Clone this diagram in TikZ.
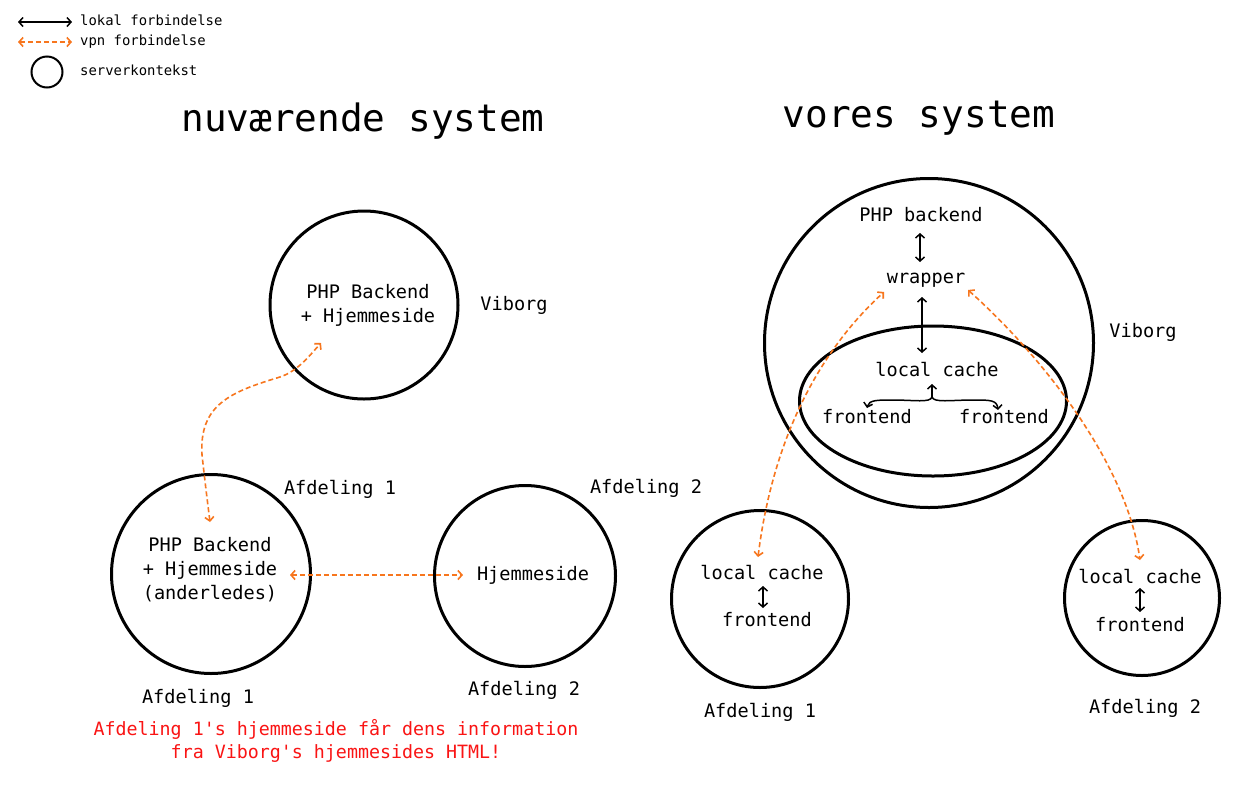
\documentclass[tikz,border=0pt]{standalone}
\usepackage{fontspec}
\setmonofont{DejaVu Sans Mono}
\usetikzlibrary{arrows.meta,shapes.geometric}
\definecolor{vpn}{RGB}{247,118,30}
\definecolor{warn}{RGB}{250,20,20}
\begin{document}
\begin{tikzpicture}[x=1pt,y=-1pt,
  txt/.style={font=\ttfamily\fontsize{18.6}{23}\selectfont, inner sep=0pt, text height=14pt, text depth=2pt},
  small/.style={font=\ttfamily\fontsize{13.9}{16}\selectfont, inner sep=0pt, anchor=west, text height=10pt, text depth=3pt},
  ttl/.style={font=\ttfamily\fontsize{37.7}{44}\selectfont, inner sep=0pt, text height=27pt, text depth=7pt},
  ctx/.style={circle, draw, line width=3pt, inner sep=0pt},
  lok/.style={{Straight Barb[length=4pt,width=9pt]}-{Straight Barb[length=4pt,width=9pt]}, line width=1.5pt},
  lok1/.style={-{Straight Barb[length=4pt,width=9pt]}, line width=1.5pt},
  vpnl/.style={draw=vpn, dash pattern=on 5pt off 3pt, line width=1.6pt, {Straight Barb[length=4pt,width=9pt]}-{Straight Barb[length=4pt,width=9pt]}}]
\useasboundingbox[fill=white] (0,0) rectangle (1242,793);

% legend
\coordinate (l1a) at (18,22); \coordinate (l1b) at (72,22);
\coordinate (l2a) at (18,42); \coordinate (l2b) at (72,42);
\draw[lok] (l1a) -- (l1b);
\draw[vpnl] (l2a) -- (l2b);
\node[circle, draw, line width=2pt, minimum size=31pt, inner sep=0pt] (lc) at (47,72) {};
\node[small] (lt1) at (80,22) {lokal forbindelse};
\node[small] (lt2) at (80,42) {vpn forbindelse};
\node[small] (lt3) at (80,72) {serverkontekst};

% titles
\node[ttl] (t1) at (363,121) {nuværende system};
\node[ttl] (t2) at (919,117) {vores system};

% left system
\node[ctx, minimum size=188pt] (cV) at (364,305) {};
\node[txt] (v1) at (368,292) {PHP Backend};
\node[txt] (v2) at (368,316) {+ Hjemmeside};
\node[txt] (vb) at (514,304) {Viborg};

\node[ctx, minimum size=199pt] (cA1) at (211,574) {};
\node[txt] (a1) at (210,545) {PHP Backend};
\node[txt] (a2) at (210,569) {+ Hjemmeside};
\node[txt] (a3) at (210,593) {(anderledes)};
\node[txt] (af1a) at (340,488) {Afdeling 1};
\node[txt] (af1b) at (198,697) {Afdeling 1};

\node[ctx, minimum size=181pt] (cA2) at (525,576) {};
\node[txt] (h2) at (533,574) {Hjemmeside};
\node[txt] (af2a) at (646,487) {Afdeling 2};
\node[txt] (af2b) at (524,689) {Afdeling 2};

\coordinate (e1) at (290,575); \coordinate (e2) at (463,575);
\draw[vpnl] (e1) -- (e2);
\coordinate (f1) at (210,522); \coordinate (f2) at (321,343);
\draw[vpnl] (f1) .. controls (206,490) .. (202,455) .. controls (199,405) and (230,392) .. (280,377) .. controls (298,371) and (310,355) .. (f2);

\node[inner sep=0pt, text=warn, align=center, font=\ttfamily\fontsize{18.3}{22.5}\selectfont] (warn) at (336,741) {Afdeling 1's hjemmeside får dens information\\fra Viborg's hjemmesides HTML!};

% right system
\node[ctx, minimum size=329pt] (big) at (929,343) {};
\node[ellipse, draw, line width=3pt, inner sep=0pt, minimum width=267pt, minimum height=150pt] (ell) at (933,401) {};
\node[txt] (pb) at (921,215) {PHP backend};
\node[txt] (wr) at (926,277) {wrapper};
\node[txt] (lcache) at (937,370) {local cache};
\node[txt] (fe1) at (867,417) {frontend};
\node[txt] (fe2) at (1004,417) {frontend};
\node[txt] (vb2) at (1143,331) {Viborg};

\coordinate (p1) at (920,233); \coordinate (p2) at (920,262);
\draw[lok] (p1) -- (p2);
\coordinate (q1) at (922,297); \coordinate (q2) at (922,353);
\draw[lok] (q1) -- (q2);
\coordinate (br) at (932,397);
\coordinate (brt) at (932,384);
\coordinate (brl) at (867,408);
\coordinate (brr) at (998,410);
\draw[lok1] (br) -- (brt);
\draw[lok1] (br) .. controls (930,403) and (915,400) .. (892,400) .. controls (877,400) and (869,400) .. (brl);
\draw[lok1] (br) .. controls (934,403) and (950,400) .. (974,400) .. controls (990,400) and (997,400) .. (brr);

\node[ctx, minimum size=177pt] (s1) at (760,599) {};
\node[txt] (s1a) at (762,573) {local cache};
\node[txt] (s1b) at (767,620) {frontend};
\node[txt] (s1c) at (760,711) {Afdeling 1};
\coordinate (r1) at (763,586); \coordinate (r2) at (763,608);
\draw[lok] (r1) -- (r2);

\node[ctx, minimum size=155pt] (s2) at (1142,598) {};
\node[txt] (s2a) at (1140,577) {local cache};
\node[txt] (s2b) at (1140,625) {frontend};
\node[txt] (s2c) at (1145,707) {Afdeling 2};
\coordinate (u1) at (1140,588); \coordinate (u2) at (1140,612);
\draw[lok] (u1) -- (u2);

\coordinate (g1) at (758,557); \coordinate (g2) at (884,292);
\draw[vpnl] (g1) .. controls (772,445) and (815,355) .. (g2);
\coordinate (k1) at (968,290); \coordinate (k2) at (1140,560);
\draw[vpnl] (k1) .. controls (1030,345) and (1125,455) .. (k2);
\end{tikzpicture}
\end{document}
